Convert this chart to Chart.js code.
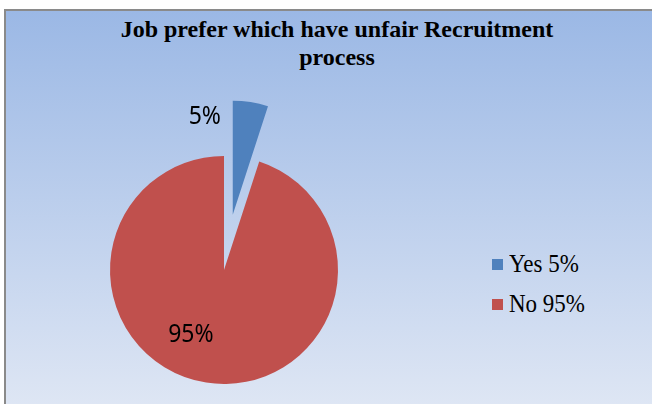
<!DOCTYPE html>
<html>
<head>
<meta charset="utf-8">
<script src="https://cdn.jsdelivr.net/npm/chart.js@4/dist/chart.umd.min.js"></script>
<style>
  html, body { margin: 0; padding: 0; background: #fff; }
  body { width: 652px; height: 404px; position: relative; overflow: hidden; }
  #frame {
    position: absolute; left: 4px; top: 9px; width: 700px; height: 420px;
    border-top: 2px solid #8a8a8a; border-left: 2px solid #8a8a8a;
    background: linear-gradient(to bottom, #9bb8e5 0%, #dee6f4 94%);
  }
  #title {
    position: absolute; left: 0; width: 674px; top: 15px;
    text-align: center; font: bold 24px "Liberation Serif", serif;
    line-height: 28px; color: #000;
  }
  #legend { position: absolute; left: 492px; top: 249px; font: 23px "Liberation Serif", serif; color: #000; }
  #legend div { height: 40px; line-height: 30px; white-space: nowrap; }
  #legend .box { display: inline-block; width: 11px; height: 11px; margin-right: 6px; vertical-align: 1px; }
  #legend .txt { display: inline-block; transform: scaleY(1.08); }
  canvas { position: absolute; left: 0; top: 0; }
</style>
</head>
<body>
<div id="frame"></div>
<div id="title">Job prefer which have unfair Recruitment<br>process</div>
<div id="legend"></div>
<canvas id="pie" width="652" height="404"></canvas>
<script>
const labels = ['Yes', 'No'];
const shares = [5, 95];
const colors = ['#4f81bd', '#c0504d'];

// how far each slice is pulled out of the pie, in px
const explode = [56, 0];
// data label spots: turn from slice middle (deg) and distance as part of radius
const labelSpot = [{ turn: -25, dist: 0.89 }, { turn: 18, dist: 0.64 }];

// legend from the same arrays
const legend = document.getElementById('legend');
labels.forEach((l, i) => {
    const row = document.createElement('div');
    row.innerHTML = `<span class="box" style="background:${colors[i]}"></span><span class="txt">${l} ${shares[i]}%</span>`;
    legend.appendChild(row);
});

const explodePlugin = {
    id: 'explode',
    afterDatasetsUpdate(chart) {
        chart.getDatasetMeta(0).data.forEach((arc, i) => {
            if (!explode[i]) return;
            const mid = (arc.startAngle + arc.endAngle) / 2;
            arc.x += Math.cos(mid) * explode[i];
            arc.y += Math.sin(mid) * explode[i];
        });
    }
};

const valueLabels = {
    id: 'valueLabels',
    afterDatasetsDraw(chart) {
        const ctx = chart.ctx;
        chart.getDatasetMeta(0).data.forEach((arc, i) => {
            const a = (arc.startAngle + arc.endAngle) / 2 + labelSpot[i].turn * Math.PI / 180;
            const r = arc.outerRadius * labelSpot[i].dist;
            ctx.save();
            ctx.translate(arc.x + Math.cos(a) * r, arc.y + Math.sin(a) * r);
            ctx.scale(1, 1.07);
            ctx.font = '23px "Noto Sans", sans-serif';
            ctx.fillStyle = '#000';
            ctx.textAlign = 'center';
            ctx.textBaseline = 'middle';
            ctx.fillText(shares[i] + '%', 0, 0);
            ctx.restore();
        });
    }
};

new Chart(document.getElementById('pie'), {
    type: 'pie',
    data: {
        labels: labels,
        datasets: [{ data: shares, backgroundColor: colors, borderWidth: 0 }]
    },
    options: {
        responsive: false,
        animation: false,
        radius: 114,
        layout: { padding: { left: 0, right: 204, top: 150, bottom: 14 } },
        plugins: { legend: { display: false }, title: { display: false }, tooltip: { enabled: false } }
    },
    plugins: [explodePlugin, valueLabels]
});
</script>
</body>
</html>
